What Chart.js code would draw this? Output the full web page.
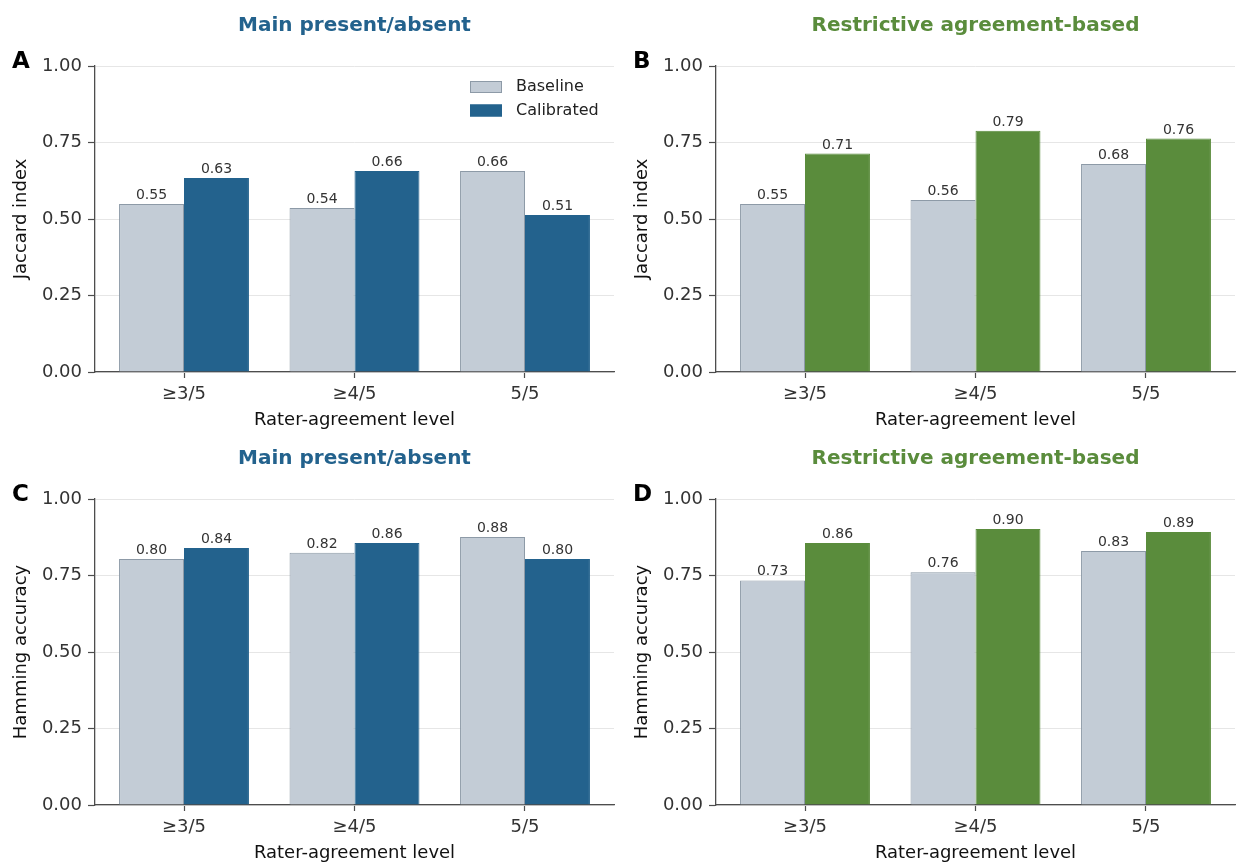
<!DOCTYPE html>
<html>
<head>
<meta charset="utf-8">
<script src="https://cdn.jsdelivr.net/npm/chart.js@4"></script>
<style>
  html, body { margin: 0; padding: 0; background: #fff; overflow: hidden; }
  body { width: 1236px; height: 862px; position: relative; }
  .panel { position: absolute; }
</style>
</head>
<body>
<div class="panel" style="left:0;top:0;width:618px;height:431px"><canvas id="chartA"></canvas></div>
<div class="panel" style="left:621px;top:0;width:615px;height:431px"><canvas id="chartB"></canvas></div>
<div class="panel" style="left:0;top:433px;width:618px;height:431px"><canvas id="chartC"></canvas></div>
<div class="panel" style="left:621px;top:433px;width:615px;height:431px"><canvas id="chartD"></canvas></div>
<script>
const categories = ['≥3/5', '≥4/5', '5/5'];
const seriesNames = ['Baseline', 'Calibrated'];
const yTicks = [0, 0.25, 0.5, 0.75, 1.0];

// jaccard index
const jaccardMainBaseline = [0.549, 0.536, 0.657];
const jaccardMainCalibrated = [0.634, 0.657, 0.513];
const jaccardRestrBaseline = [0.549, 0.562, 0.680];
const jaccardRestrCalibrated = [0.714, 0.788, 0.763];

// hamming accuracy
const hammingMainBaseline = [0.804, 0.824, 0.876];
const hammingMainCalibrated = [0.840, 0.856, 0.804];
const hammingRestrBaseline = [0.734, 0.761, 0.830];
const hammingRestrCalibrated = [0.856, 0.902, 0.892];

const FONT = "'DejaVu Sans', sans-serif";
const BLUE = '#23628d';
const GREEN = '#5a8c3c';
const BASE_FILL = '#c3ccd6';
const BASE_EDGE = '#8d9aa7';
const SPINE = '#4d4d4d';

// category positions on a numeric x axis, matplotlib-like margins
const xIdx = categories.map((c, i) => i);
const X_PAD = 0.522;

// bar value labels above each bar
const valueLabels = {
    id: 'valueLabels',
    afterDatasetsDraw(chart) {
        const ctx = chart.ctx;
        ctx.save();
        ctx.font = '14px ' + FONT;
        ctx.fillStyle = '#333';
        ctx.textAlign = 'center';
        ctx.textBaseline = 'alphabetic';
        chart.data.datasets.forEach((ds, i) => {
            chart.getDatasetMeta(i).data.forEach((bar, j) => {
                ctx.fillText(ds.data[j].y.toFixed(2), bar.x, bar.y - 5);
            });
        });
        ctx.restore();
    }
};

// panel letter + optional legend
const panelExtras = {
    id: 'panelExtras',
    afterDraw(chart, args, opts) {
        const ctx = chart.ctx;
        ctx.save();
        ctx.font = 'bold 23px ' + FONT;
        ctx.fillStyle = '#000';
        ctx.textBaseline = 'alphabetic';
        ctx.fillText(opts.letter, 12, 68);

        if (opts.legend) {
            const x0 = 470, rows = [87, 110.5];
            ctx.font = '16px ' + FONT;
            ctx.textBaseline = 'middle';
            chart.data.datasets.forEach((ds, i) => {
                const y = rows[i];
                ctx.fillStyle = ds.backgroundColor;
                ctx.fillRect(x0, y - 6, 32, 12);
                ctx.strokeStyle = ds.borderColor;
                ctx.lineWidth = 1;
                ctx.strokeRect(x0 + 0.5, y - 5.5, 31, 11);
                ctx.fillStyle = '#222';
                ctx.fillText(ds.label, 516, y);
            });
        }
        ctx.restore();
    }
};

const toPoints = vals => vals.map((v, i) => ({ x: xIdx[i], y: v }));

function makePanel(id, letter, title, color, yLabel, baseline, calibrated, showLegend, rightPad) {
    return new Chart(document.getElementById(id), {
        type: 'bar',
        data: {
            datasets: [
                {
                    label: seriesNames[0],
                    data: toPoints(baseline),
                    backgroundColor: BASE_FILL,
                    borderColor: BASE_EDGE,
                    borderWidth: 1,
                    borderSkipped: 'bottom'
                },
                {
                    label: seriesNames[1],
                    data: toPoints(calibrated),
                    backgroundColor: color,
                    borderColor: color,
                    borderWidth: 1,
                    borderSkipped: 'bottom'
                }
            ]
        },
        options: {
            responsive: true,
            maintainAspectRatio: false,
            animation: false,
            layout: { padding: { left: 0, right: rightPad, top: 0, bottom: 0 } },
            categoryPercentage: 0.762,
            barPercentage: 1.0,
            plugins: {
                legend: { display: false },
                tooltip: { enabled: false },
                title: {
                    display: true,
                    text: title,
                    color: color,
                    fullSize: false,
                    font: { family: FONT, size: 20, weight: 'bold', lineHeight: 1.2 },
                    padding: { top: 14, bottom: 28 }
                },
                panelExtras: { letter: letter, legend: showLegend }
            },
            scales: {
                x: {
                    type: 'linear',
                    offset: false,
                    min: -X_PAD,
                    max: categories.length - 1 + X_PAD,
                    afterBuildTicks(scale) { scale.ticks = xIdx.map(v => ({ value: v })); },
                    grid: {
                        offset: false,
                        drawOnChartArea: false,
                        drawTicks: true,
                        tickLength: 6,
                        tickColor: SPINE,
                        tickWidth: 1.2
                    },
                    border: { display: true, color: SPINE, width: 1.3 },
                    ticks: {
                        color: '#333',
                        font: { family: FONT, size: 18 },
                        padding: 6,
                        callback: v => categories[Math.round(v)]
                    },
                    title: {
                        display: true,
                        text: 'Rater-agreement level',
                        color: '#111',
                        font: { family: FONT, size: 18, lineHeight: 1.2 },
                        padding: { top: 0, bottom: 0 }
                    },
                    afterFit(scale) { scale.height = 59; }
                },
                y: {
                    min: 0,
                    max: 1,
                    afterBuildTicks(scale) { scale.ticks = yTicks.map(v => ({ value: v })); },
                    grid: {
                        color: '#e6e6e6',
                        lineWidth: 1,
                        drawTicks: true,
                        tickLength: 7,
                        tickColor: SPINE,
                        tickWidth: 1.2
                    },
                    border: { display: true, color: SPINE, width: 1.3 },
                    ticks: {
                        color: '#333',
                        font: { family: FONT, size: 18 },
                        padding: 6,
                        callback: v => Number(v).toFixed(2)
                    },
                    title: {
                        display: true,
                        text: yLabel,
                        color: '#111',
                        font: { family: FONT, size: 18, lineHeight: 1.2 },
                        padding: { top: 11, bottom: 0 }
                    },
                    afterFit(scale) { scale.width = 95; }
                }
            }
        },
        plugins: [valueLabels, panelExtras]
    });
}

makePanel('chartA', 'A', 'Main present/absent', BLUE, 'Jaccard index',
    jaccardMainBaseline, jaccardMainCalibrated, true, 4);
makePanel('chartB', 'B', 'Restrictive agreement-based', GREEN, 'Jaccard index',
    jaccardRestrBaseline, jaccardRestrCalibrated, false, 1);
makePanel('chartC', 'C', 'Main present/absent', BLUE, 'Hamming accuracy',
    hammingMainBaseline, hammingMainCalibrated, false, 4);
makePanel('chartD', 'D', 'Restrictive agreement-based', GREEN, 'Hamming accuracy',
    hammingRestrBaseline, hammingRestrCalibrated, false, 1);
</script>
</body>
</html>
